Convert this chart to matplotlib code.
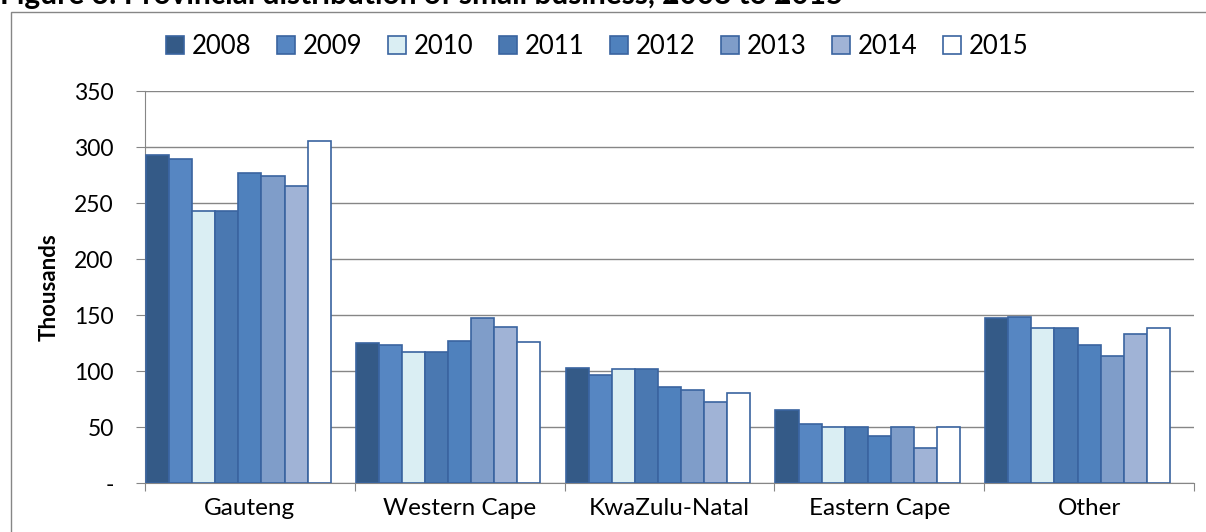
import matplotlib.pyplot as plt
from matplotlib.patches import Rectangle
import numpy as np

plt.rcParams['font.family'] = ['Lato', 'DejaVu Sans']

provinces = ["Gauteng", "Western Cape", "KwaZulu-Natal", "Eastern Cape", "Other"]
years = ["2008", "2009", "2010", "2011", "2012", "2013", "2014", "2015"]

# thousands of small businesses, read per year across provinces
v2008 = [293, 125, 103, 65, 147]
v2009 = [289, 123, 96, 53, 148]
v2010 = [243, 117, 102, 50, 138]
v2011 = [243, 117, 102, 50, 138]
v2012 = [277, 127, 86, 42, 123]
v2013 = [274, 147, 83, 50, 113]
v2014 = [265, 139, 72, 31, 133]
v2015 = [305, 126, 80, 50, 138]
series = [v2008, v2009, v2010, v2011, v2012, v2013, v2014, v2015]

colors = ["#345A87", "#5686C2", "#DAEEF3", "#4A78B1", "#4F81BD",
          "#7F9DC9", "#A0B3D6", "#FFFFFF"]
edge = "#3A64A0"

fig = plt.figure(figsize=(12.06, 5.32), dpi=100)
ax = fig.add_axes([145 / 1206, 1 - 483 / 532, (1194 - 145) / 1206, (483 - 91) / 532])

x = np.arange(len(provinces))
w = 0.11
for j, (yr, vals) in enumerate(zip(years, series)):
    ax.bar(x - 0.5 + 0.005 + (j + 0.5) * w, vals, width=w, color=colors[j],
           edgecolor=edge, linewidth=1.2, label=yr, zorder=3)

ax.set_xlim(-0.5, len(provinces) - 0.5)
ax.set_ylim(0, 350)
ax.set_yticks(range(0, 351, 50))
ax.set_yticklabels(["-"] + [str(v) for v in range(50, 351, 50)], fontsize=16.5)
ax.yaxis.grid(True, color="#868686", linewidth=1, zorder=0)
ax.set_xticks(np.arange(-0.5, len(provinces), 1.0))
ax.set_xticklabels([])
ax.set_xticks(x, minor=True)
ax.set_xticklabels(provinces, minor=True, fontsize=17.5)
ax.tick_params(axis="x", which="minor", length=0, pad=11)
ax.tick_params(axis="x", which="major", length=6, color="#868686")
ax.tick_params(axis="y", length=6.5, color="#868686", pad=16)
for s in ["top", "right"]:
    ax.spines[s].set_visible(False)
for s in ["left", "bottom"]:
    ax.spines[s].set_color("#868686")
ax.set_ylabel("Thousands", fontsize=16, fontweight="bold")
ax.yaxis.set_label_coords(-(145 - 60) / 1049, 0.5)

ax.legend(loc="center", bbox_to_anchor=(0.431, (483 - 46) / 392), ncol=8, frameon=False,
          fontsize=18.5, handlelength=0.7, handleheight=0.7, handletextpad=0.3,
          columnspacing=1.0)

fig.patches.append(Rectangle((11 / 1206, -0.1), 1.1, 1.1 - 12 / 532,
                             transform=fig.transFigure, fill=False,
                             edgecolor="#868686", linewidth=1))
fig.text(0.0, 1 - 4 / 532, "Figure 3: Provincial distribution of small business, 2008 to 2015",
         fontsize=21.5, fontweight="bold", va="baseline", ha="left")

plt.savefig("out.png", dpi=100)
